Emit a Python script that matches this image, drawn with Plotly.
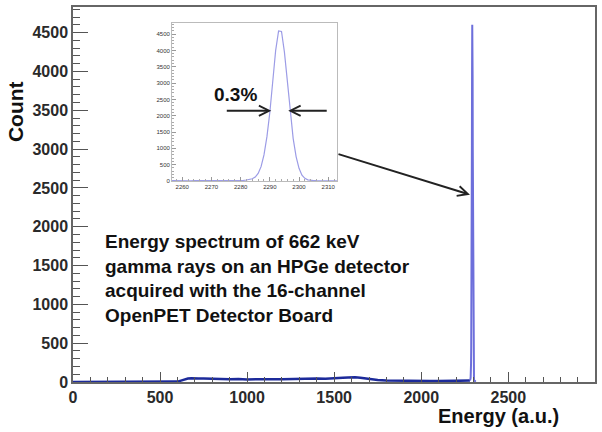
import plotly.graph_objects as go

# broad continuum of the full spectrum (energy in a.u., counts)
cont_energy = [0, 560, 600, 620, 640, 660, 680, 700, 720, 750, 800, 850, 900, 950, 1000,
               1050, 1100, 1150, 1200, 1250, 1300, 1350, 1400, 1450, 1500, 1550, 1580,
               1600, 1620, 1650, 1680, 1700, 1750, 1800, 1850, 1900, 1950, 2000, 2050,
               2100, 2150, 2200, 2240, 2260, 2270, 2280]
cont_counts = [0, 0, 5, 18, 35, 45, 48, 50, 46, 44, 40, 42, 36, 40, 33,
               37, 32, 36, 34, 38, 40, 37, 45, 42, 52, 55, 58,
               62, 60, 56, 45, 35, 25, 20, 17, 15, 14, 13, 12,
               12, 13, 14, 18, 22, 25, 18]

# 662 keV photopeak, 1 a.u. bins
peak_energy = [2256, 2257, 2258, 2259, 2260, 2261, 2262, 2263, 2264, 2265, 2266, 2267,
               2268, 2269, 2270, 2271, 2272, 2273, 2274, 2275, 2276, 2277, 2278, 2279,
               2280, 2281, 2282, 2283, 2284, 2285, 2286, 2287, 2288, 2289, 2290, 2291,
               2292, 2293, 2294, 2295, 2296, 2297, 2298, 2299, 2300, 2301, 2302, 2303,
               2304, 2305, 2306, 2307, 2308, 2309, 2310, 2311, 2312, 2313]
peak_counts = [12, 8, 14, 10, 9, 13, 11, 7, 12, 10, 9, 14,
               11, 8, 12, 10, 13, 9, 11, 12, 10, 14, 12, 15,
               18, 22, 30, 45, 70, 120, 230, 440, 800, 1350, 2100, 3050,
               4000, 4600, 4580, 3950, 3000, 2050, 1300, 750, 390, 180, 80, 35,
               18, 12, 9, 11, 8, 10, 7, 9, 6, 8]

FONT = "Liberation Sans, Arial, sans-serif"

fig = go.Figure()

fig.add_trace(go.Scatter(x=cont_energy, y=cont_counts, mode="lines",
                         line=dict(color="#1c2a9a", width=2.5), showlegend=False))
fig.add_trace(go.Scatter(x=peak_energy[24:], y=peak_counts[24:], mode="lines",
                         line=dict(color="#6d6fdb", width=2), showlegend=False))
# inset zoom on the peak
fig.add_trace(go.Scatter(x=peak_energy, y=peak_counts, mode="lines",
                         line=dict(color="#9c9ce6", width=1.2), showlegend=False,
                         xaxis="x2", yaxis="y2"))

tickfont = dict(family=FONT, size=16, color="#2a2a2a", weight="bold")
small = dict(family=FONT, size=6, color="#333")

fig.update_layout(
    width=602, height=432,
    margin=dict(l=73, r=7, t=7, b=50),
    plot_bgcolor="white", paper_bgcolor="white",
    xaxis=dict(range=[0, 2998], tick0=0, dtick=500, ticks="inside", ticklen=10,
               tickcolor="#555", minor=dict(dtick=100, ticks="inside", ticklen=5, tickcolor="#555"),
               showline=True, linecolor="#666", linewidth=1.5, mirror=True,
               showgrid=False, zeroline=False, tickfont=tickfont, automargin=False),
    yaxis=dict(range=[0, 4830], tick0=0, dtick=500, ticks="inside", ticklen=15,
               tickcolor="#555", minor=dict(dtick=100, ticks="inside", ticklen=7, tickcolor="#555"),
               showline=True, linecolor="#666", linewidth=1.5, mirror=True,
               showgrid=False, zeroline=False, tickfont=tickfont, automargin=False),
    xaxis2=dict(domain=[0.1897, 0.5057], anchor="y2", range=[2256.5, 2313], tick0=2260,
                dtick=10, ticks="inside", ticklen=4, tickcolor="#999",
                minor=dict(dtick=2, ticks="inside", ticklen=2, tickcolor="#aaa"),
                showline=True, linecolor="#bbb", linewidth=1, mirror=True,
                showgrid=False, zeroline=False, tickfont=small),
    yaxis2=dict(domain=[0.536, 0.957], anchor="x2", range=[0, 4837], tick0=0,
                dtick=500, ticks="inside", ticklen=4, tickcolor="#999",
                minor=dict(dtick=100, ticks="inside", ticklen=2, tickcolor="#aaa"),
                showline=True, linecolor="#bbb", linewidth=1, mirror=True,
                showgrid=False, zeroline=False, tickfont=small),
)

bold = lambda size: dict(family=FONT, size=size, color="#111", weight="bold")

fig.add_annotation(text="Count", xref="paper", yref="paper", x=-0.111, y=0.72,
                   xanchor="center", yanchor="middle",
                   textangle=-90, showarrow=False, font=bold(21))
fig.add_annotation(text="Energy (a.u.)", xref="paper", yref="paper", x=0.815, y=-0.09,
                   xanchor="center", yanchor="middle", showarrow=False, font=bold(20))
fig.add_annotation(
    text="Energy spectrum of 662 keV<br>gamma rays on an HPGe detector<br>"
         "acquired with the 16-channel<br>OpenPET Detector Board",
    xref="paper", yref="paper", x=0.058, y=0.277, xanchor="left", yanchor="middle",
    align="left", showarrow=False, font=bold(19))
fig.add_annotation(text="0.3%", xref="x2", yref="y2", x=2278.4, y=2648,
                   showarrow=False, font=bold(19))

arrow = dict(showarrow=True, arrowhead=5, arrowsize=1, arrowwidth=2,
             arrowcolor="#222", standoff=0, text="")
fig.add_annotation(x=2290.5, y=2152, xref="x2", yref="y2", ax=-46, ay=0, **arrow)
fig.add_annotation(x=2296.3, y=2152, xref="x2", yref="y2", ax=40, ay=0, **arrow)
fig.add_annotation(x=2280, y=2413, xref="x", yref="y", ax=-133, ay=-41, **arrow)

fig.write_html("out.html", config={"displayModeBar": False},
               post_script="document.body.style.margin='0';")
